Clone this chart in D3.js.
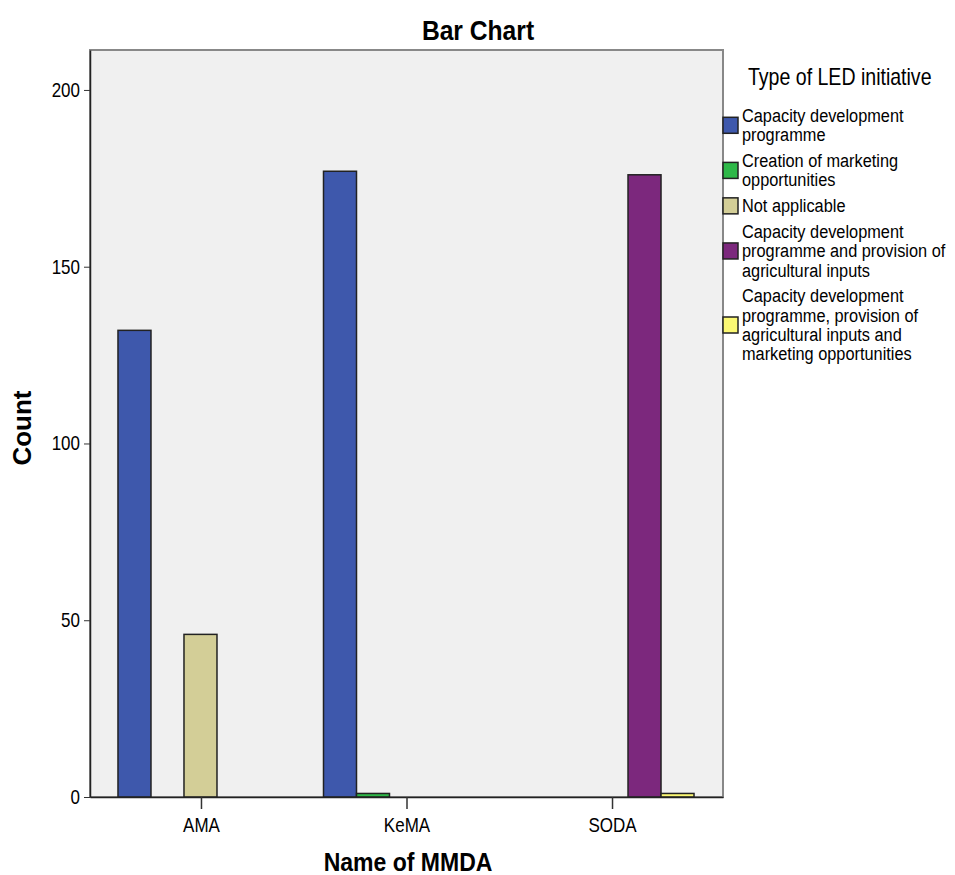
<!DOCTYPE html>
<html><head><meta charset="utf-8">
<script src="https://cdn.jsdelivr.net/npm/d3@7/dist/d3.min.js"></script>
<style>
body{margin:0;background:#fff;}
text{font-family:"Liberation Sans",Arial,sans-serif;fill:#000;}
</style></head>
<body><svg id="chart" width="955" height="875"></svg>
<script>
const categories = ["AMA", "KeMA", "SODA"];
const seriesNames = [
  "Capacity development programme",
  "Creation of marketing opportunities",
  "Not applicable",
  "Capacity development programme and provision of agricultural inputs",
  "Capacity development programme, provision of agricultural inputs and marketing opportunities"
];
const legendLines = [
  ["Capacity development", "programme"],
  ["Creation of marketing", "opportunities"],
  ["Not applicable"],
  ["Capacity development", "programme and provision of", "agricultural inputs"],
  ["Capacity development", "programme, provision of", "agricultural inputs and", "marketing opportunities"]
];
const colors = ["#3E58AC", "#2EB848", "#D3CE97", "#7C287D", "#FBF873"];
// counts per series, in order of categories
const capacityDev = [132, 177, 0];
const marketing = [0, 1, 0];
const notApplicable = [46, 0, 0];
const capacityInputs = [0, 0, 176];
const capacityInputsMarketing = [0, 0, 1];
const seriesValues = [capacityDev, marketing, notApplicable, capacityInputs, capacityInputsMarketing];
const yTicks = [0, 50, 100, 150, 200];

const svg = d3.select("#chart");
const L = 90, R = 723, T = 50, B = 797;

const x0 = d3.scalePoint().domain(categories).range([L, R]).padding(0.54);
const x1 = d3.scaleBand().domain(d3.range(seriesNames.length)).range([-83, 82]);
const y = d3.scaleLinear().domain([0, 211.3]).range([B, T]);

function addText(parent, x, yy, str, size, sx, opts = {}) {
  const t = parent.append("text")
    .attr("transform", `translate(${x},${yy}) ${opts.rotate ? "rotate(-90)" : ""} scale(${sx},1)`)
    .attr("font-size", size)
    .attr("text-anchor", opts.anchor || "start")
    .text(str);
  if (opts.bold) t.attr("font-weight", "bold");
  return t;
}

// plot background
svg.append("rect").attr("x", L).attr("y", T).attr("width", R - L).attr("height", B - T)
  .attr("fill", "#F0F0F0").attr("stroke", "#888").attr("stroke-width", 2);

// bars
const data = [];
categories.forEach((c, ci) => seriesValues.forEach((s, si) => data.push({c, si, v: s[ci]})));
svg.append("g").selectAll("rect").data(data.filter(d => d.v > 0)).join("rect")
  .attr("x", d => x0(d.c) + x1(d.si))
  .attr("y", d => y(d.v))
  .attr("width", x1.bandwidth())
  .attr("height", d => y(0) - y(d.v))
  .attr("fill", d => colors[d.si])
  .attr("stroke", "#222").attr("stroke-width", 1.5);

// y axis
const yAxis = svg.append("g").attr("transform", `translate(${L},0)`)
  .call(d3.axisLeft(y).tickValues(yTicks).tickSize(6).tickSizeOuter(0).tickPadding(3).tickFormat(d3.format("d")));
yAxis.select(".domain").attr("stroke", "#222").attr("stroke-width", 1.5);
yAxis.selectAll(".tick line").attr("stroke", "#333");
yAxis.selectAll("text").attr("font-size", 20).attr("fill", "#000").attr("font-family", "Liberation Sans")
  .attr("x", 0).attr("transform", "translate(-10,0) scale(0.85,1)");

// x axis
const xAxis = svg.append("g").attr("transform", `translate(0,${B})`)
  .call(d3.axisBottom(x0).tickSize(12).tickSizeOuter(0).tickPadding(9));
xAxis.select(".domain").attr("stroke", "#222").attr("stroke-width", 1.5);
xAxis.selectAll(".tick line").attr("stroke", "#333").attr("stroke-width", 1.5);
xAxis.selectAll("text").attr("font-size", 20).attr("fill", "#000").attr("font-family", "Liberation Sans")
  .attr("transform", "scale(0.85,1)");

// title
addText(svg, 478, 40, "Bar Chart", 28, 0.88, {anchor: "middle", bold: true});
// axis labels
addText(svg, 31, 428, "Count", 26, 1, {anchor: "middle", bold: true, rotate: true});
addText(svg, 408, 871, "Name of MMDA", 26, 0.885, {anchor: "middle", bold: true});

// legend
const lg = svg.append("g");
addText(lg, 748, 85, "Type of LED initiative", 23, 0.85);
const lineH = 19.3, gap = 6.5;
let cy = 122;
legendLines.forEach((lines, i) => {
  const top = cy - 14;
  lines.forEach((ln, k) => addText(lg, 742, cy + k * lineH, ln, 19, 0.86));
  const blockMid = top + (lines.length * lineH) / 2 - 2;
  lg.append("rect").attr("x", 723).attr("y", blockMid - 8).attr("width", 15).attr("height", 16)
    .attr("fill", colors[i]).attr("stroke", "#222").attr("stroke-width", 1.5);
  cy += lines.length * lineH + gap;
});
</script></body></html>
